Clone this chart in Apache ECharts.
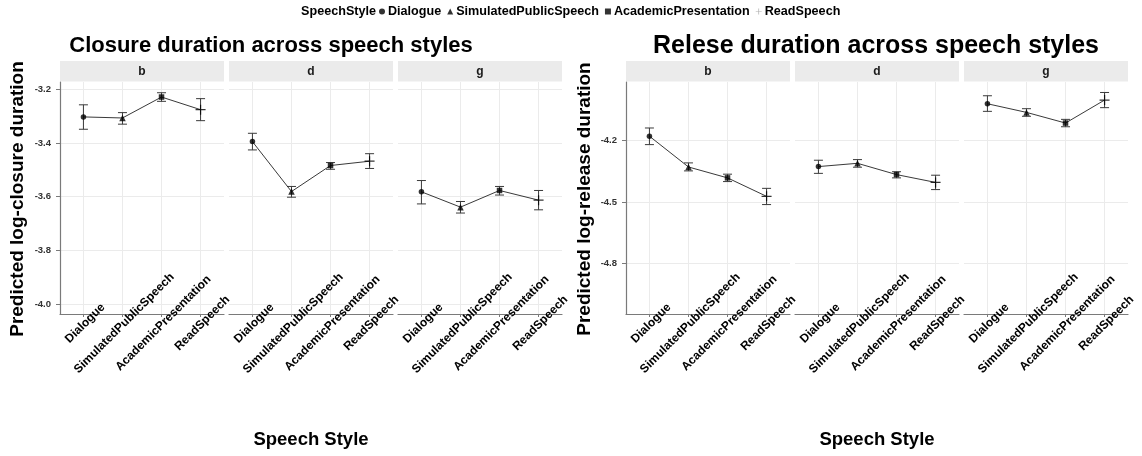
<!DOCTYPE html>
<html>
<head>
<meta charset="utf-8">
<script src="https://cdn.jsdelivr.net/npm/echarts@6/dist/echarts.min.js"></script>
<style>
  html, body { margin: 0; padding: 0; background: #ffffff; }
  #chart { width: 1142px; height: 456px; }
</style>
</head>
<body>
<div id="chart"></div>
<script>
// Speech styles on the x axis, consonants as facets
const styles = ['Dialogue', 'SimulatedPublicSpeech', 'AcademicPresentation', 'ReadSpeech'];
const consonants = ['b', 'd', 'g'];

// Predicted log-closure duration: rows = b, d, g; columns = styles
const closureFit   = [[-3.303, -3.307, -3.229, -3.276], [-3.395, -3.581, -3.484, -3.468], [-3.582, -3.639, -3.577, -3.613]];
const closureLower = [[-3.349, -3.330, -3.245, -3.317], [-3.426, -3.602, -3.498, -3.495], [-3.627, -3.661, -3.594, -3.649]];
const closureUpper = [[-3.258, -3.287, -3.213, -3.235], [-3.364, -3.562, -3.473, -3.440], [-3.540, -3.618, -3.562, -3.577]];

// Predicted log-release duration
const releaseFit   = [[-4.180, -4.330, -4.383, -4.473], [-4.328, -4.312, -4.367, -4.405], [-4.022, -4.064, -4.116, -4.004]];
const releaseLower = [[-4.221, -4.349, -4.401, -4.513], [-4.361, -4.331, -4.383, -4.440], [-4.059, -4.083, -4.134, -4.041]];
const releaseUpper = [[-4.140, -4.310, -4.365, -4.434], [-4.297, -4.294, -4.353, -4.370], [-3.983, -4.046, -4.098, -3.967]];

// Axis ticks and limits
const closureTicks = [-4.0, -3.8, -3.6, -3.4, -3.2];
const releaseTicks = [-4.8, -4.5, -4.2];
const closureRange = [-4.037, -3.173];
const releaseRange = [-5.046, -3.916];

const plotTitles = ['Closure duration across speech styles', 'Relese duration across speech styles'];
const yTitles = ['Predicted log-closure duration', 'Predicted log-release duration'];
const xTitle = 'Speech Style';
const legendTitle = 'SpeechStyle';

const FONT = '"Liberation Sans", Arial, Helvetica, sans-serif';
const plusPath = 'path://M0,4.4 H10 V5.6 H0 Z M4.4,0 H5.6 V10 H4.4 Z';
const markers = [
  { symbol: 'circle', size: 5.5 },
  { symbol: 'triangle', size: 6.5 },
  { symbol: 'rect', size: 5.5 },
  { symbol: plusPath, size: 10 }
];

const panels = [
  { fit: closureFit, lo: closureLower, hi: closureUpper, ticks: closureTicks, range: closureRange, lefts: [60, 229, 398] },
  { fit: releaseFit, lo: releaseLower, hi: releaseUpper, ticks: releaseTicks, range: releaseRange, lefts: [626, 795, 964] }
];
const FACET_W = 164;
const TOP = 82;
const HEIGHT = 232;

const grid = [], xAxis = [], yAxis = [], series = [], graphic = [];

panels.forEach((p, pi) => {
  consonants.forEach((c, ci) => {
    const gi = grid.length;
    const left = p.lefts[ci];
    grid.push({ left: left, top: TOP, width: FACET_W, height: HEIGHT });
    xAxis.push({
      type: 'value', gridIndex: gi, min: 0.4, max: 4.6,
      axisLine: { show: true, lineStyle: { color: '#7a7a7a', width: 1.2 } },
      axisTick: { show: true, customValues: [1, 2, 3, 4], length: 3, lineStyle: { color: '#7a7a7a' } },
      axisLabel: {
        customValues: [1, 2, 3, 4], formatter: v => styles[Math.round(v) - 1],
        rotate: 45, align: 'center', verticalAlign: 'middle', margin: 11, padding: [6, 0, 0, 5],
        fontFamily: FONT, fontWeight: 'bold', fontSize: 12, color: '#000'
      },
      splitLine: { show: true, lineStyle: { color: '#ebebeb', width: 1 } }
    });
    const first = ci === 0;
    yAxis.push({
      type: 'value', gridIndex: gi, min: p.range[0], max: p.range[1],
      axisLine: { show: first, lineStyle: { color: '#7a7a7a', width: 1.2 } },
      axisTick: { show: first, customValues: p.ticks, length: 4, lineStyle: { color: '#7a7a7a' } },
      axisLabel: {
        show: first, customValues: p.ticks, margin: 9,
        formatter: v => v.toFixed(1),
        fontFamily: FONT, fontWeight: 'bold', fontSize: 9.5, color: '#333'
      },
      splitLine: { show: true, lineStyle: { color: '#ebebeb', width: 1 } }
    });

    const fit = p.fit[ci], lo = p.lo[ci], hi = p.hi[ci];

    // confidence intervals
    series.push({
      type: 'custom', xAxisIndex: gi, yAxisIndex: gi, silent: true, z: 3,
      data: styles.map((s, k) => [k + 1, lo[k], hi[k]]),
      renderItem: (params, api) => {
        const top = api.coord([api.value(0), api.value(2)]);
        const bot = api.coord([api.value(0), api.value(1)]);
        const hw = 4.5;
        const st = { stroke: '#3a3a3a', lineWidth: 1 };
        return {
          type: 'group',
          children: [
            { type: 'line', shape: { x1: top[0], y1: top[1], x2: bot[0], y2: bot[1] }, style: st },
            { type: 'line', shape: { x1: top[0] - hw, y1: top[1], x2: top[0] + hw, y2: top[1] }, style: st },
            { type: 'line', shape: { x1: bot[0] - hw, y1: bot[1], x2: bot[0] + hw, y2: bot[1] }, style: st }
          ]
        };
      }
    });

    // connecting line
    series.push({
      type: 'line', xAxisIndex: gi, yAxisIndex: gi, silent: true, z: 4,
      showSymbol: false, animation: false,
      lineStyle: { color: '#222', width: 0.9 },
      data: fit.map((v, k) => [k + 1, v])
    });

    // one point per speech style
    styles.forEach((s, k) => {
      series.push({
        type: 'scatter', name: s, xAxisIndex: gi, yAxisIndex: gi, silent: true, z: 5,
        symbol: markers[k].symbol, symbolSize: markers[k].size,
        itemStyle: { color: '#000' },
        data: [[k + 1, fit[k]]]
      });
    });

    // facet strip
    graphic.push({
      type: 'rect', left: left, top: 61, silent: true,
      shape: { width: FACET_W, height: 20.5 },
      style: { fill: '#ebebeb' }
    });
    graphic.push({
      type: 'text', silent: true, x: left + FACET_W / 2, y: 71.5,
      style: { text: c, align: 'center', verticalAlign: 'middle', font: 'bold 12px ' + FONT, fill: '#1a1a1a' }
    });
  });
});

// plot titles, axis titles
const titleX = [271, 876];
const titleSize = [22, 25];
const xTitleX = [311, 877];
const yTitleX = [18, 585];
[0, 1].forEach(i => {
  graphic.push({
    type: 'text', silent: true, x: titleX[i], y: 46,
    style: { text: plotTitles[i], align: 'center', verticalAlign: 'middle', font: 'bold ' + titleSize[i] + 'px ' + FONT, fill: '#000' }
  });
  graphic.push({
    type: 'text', silent: true, x: xTitleX[i], y: 440,
    style: { text: xTitle, align: 'center', verticalAlign: 'middle', font: 'bold 18.5px ' + FONT, fill: '#000' }
  });
  graphic.push({
    type: 'text', silent: true, x: yTitleX[i], y: 199, rotation: Math.PI / 2,
    style: { text: yTitles[i], align: 'center', verticalAlign: 'middle', font: 'bold 19px ' + FONT, fill: '#000' }
  });
});
graphic.push({
  type: 'text', silent: true, x: 376, y: 11.5,
  style: { text: legendTitle, align: 'right', verticalAlign: 'middle', font: 'bold 12.6px ' + FONT, fill: '#000' }
});

const chart = echarts.init(document.getElementById('chart'), null, { renderer: 'canvas' });
chart.setOption({
  animation: false,
  backgroundColor: '#ffffff',
  grid: grid,
  xAxis: xAxis,
  yAxis: yAxis,
  legend: {
    left: 379, top: 5, itemGap: 6, itemWidth: 6, itemHeight: 6, padding: 0,
    selectedMode: false,
    textStyle: { fontFamily: FONT, fontWeight: 'bold', fontSize: 12.6, color: '#000', padding: [0, 0, 0, -2] },
    data: styles.map((s, k) => ({
      name: s,
      icon: k === 3 ? plusPath : markers[k].symbol,
      itemStyle: { color: k === 3 ? '#9a9a9a' : '#000' }
    }))
  },
  graphic: graphic,
  series: series
});
</script>
</body>
</html>
